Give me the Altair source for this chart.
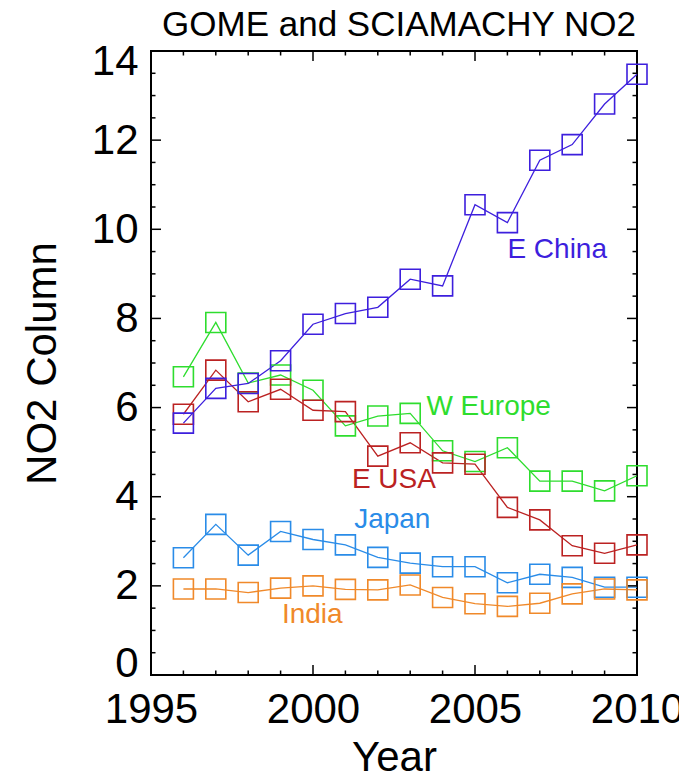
import altair as alt
import pandas as pd

# ---- data ----
years = list(range(1996, 2011))
e_china = [5.65, 6.43, 6.54, 7.05, 7.87, 8.11, 8.25, 8.88, 8.73, 10.55, 10.15, 11.55, 11.90, 12.81, 13.48]
w_europe = [6.69, 7.91, 6.55, 6.73, 6.39, 5.59, 5.81, 5.87, 5.03, 4.79, 5.10, 4.35, 4.35, 4.13, 4.47]
e_usa = [5.85, 6.84, 6.13, 6.41, 5.94, 5.91, 4.91, 5.21, 4.76, 4.73, 3.76, 3.48, 2.90, 2.73, 2.92]
japan = [2.63, 3.38, 2.69, 3.22, 3.04, 2.92, 2.64, 2.51, 2.43, 2.43, 2.07, 2.26, 2.19, 1.97, 1.97]
india = [1.93, 1.93, 1.85, 1.95, 2.00, 1.92, 1.91, 2.02, 1.74, 1.60, 1.54, 1.61, 1.82, 1.93, 1.91]

regions = ["W Europe", "E USA", "Japan", "E China", "India"]
series = [w_europe, e_usa, japan, e_china, india]
colors = ["#2EDD2E", "#BB2222", "#2A8CE8", "#3D1FDD", "#F0892A"]

# in-plot labels (data coordinates)
label_x = [2003.5, 2001.2, 2001.27, 2006.0, 1999.04]
label_y = [5.83, 4.19, 3.30, 9.35, 1.17]

x_major = [1995, 2000, 2005, 2010]
x_minor = [y for y in range(1996, 2010) if y not in x_major]
y_major = [0, 2, 4, 6, 8, 10, 12, 14]
y_minor = [v / 2 for v in range(1, 28) if v % 4 != 0]

W, H = 486, 624
FONT = "Liberation Sans"
MAJ, MIN = 10, 4.5

rows = []
for r, vals in zip(regions, series):
    for yr, v in zip(years, vals):
        rows.append({"region": r, "year": yr, "value": v})
df = pd.DataFrame(rows)
labels_df = pd.DataFrame({"region": regions, "year": label_x, "value": label_y})

xscale = alt.Scale(domain=[1995, 2010], nice=False, zero=False)
yscale = alt.Scale(domain=[0, 14], nice=False, zero=False)
cscale = alt.Scale(domain=regions, range=colors)

xaxis = alt.Axis(values=x_major, format="d", tickSize=0, domain=False, grid=False,
                 labelFontSize=42, labelFont=FONT, labelColor="black", labelPadding=14,
                 labelFlush=False, labelOverlap=False,
                 titleFontSize=42, titleFont=FONT, titleFontWeight="normal", titleColor="black",
                 titleBaseline="alphabetic", titleY=95, titleX=W / 2)
yaxis = alt.Axis(values=y_major, format="d", tickSize=0, domain=False, grid=False,
                 labelFontSize=42, labelFont=FONT, labelColor="black", labelPadding=13,
                 labelFlush=True, labelFlushOffset=10, labelOverlap=False,
                 titleFontSize=42, titleFont=FONT, titleFontWeight="normal", titleColor="black",
                 titleBaseline="alphabetic", titleX=-96, titleY=H / 2, titleAngle=-90)

X = alt.X("year:Q", scale=xscale, axis=xaxis, title="Year")
Y = alt.Y("value:Q", scale=yscale, axis=yaxis, title="NO2 Column")
C = alt.Color("region:N", scale=cscale, legend=None)

lines = alt.Chart(df).mark_line(strokeWidth=1.3).encode(x=X, y=Y, color=C, detail="region:N")
points = alt.Chart(df).mark_point(shape="square", filled=False, size=400, strokeWidth=1.6, opacity=1).encode(
    x=X, y=Y, color=C)
texts = alt.Chart(labels_df).mark_text(align="left", baseline="alphabetic", fontSize=28, font=FONT).encode(
    x=X, y=Y, color=C, text="region:N")


def xticks(vals, length):
    d = pd.DataFrame({"year": vals})
    bottom = alt.Chart(d).mark_rule(color="black", strokeWidth=1.5).encode(
        x=X, y=alt.value(H), y2=alt.value(H - length))
    top = alt.Chart(d).mark_rule(color="black", strokeWidth=1.5).encode(
        x=X, y=alt.value(0), y2=alt.value(length))
    return [bottom, top]


def yticks(vals, length):
    d = pd.DataFrame({"value": vals})
    left = alt.Chart(d).mark_rule(color="black", strokeWidth=1.5).encode(
        y=Y, x=alt.value(0), x2=alt.value(length))
    right = alt.Chart(d).mark_rule(color="black", strokeWidth=1.5).encode(
        y=Y, x=alt.value(W), x2=alt.value(W - length))
    return [left, right]


tick_layers = xticks(x_major, MAJ) + xticks(x_minor, MIN) + yticks(y_major, MAJ) + yticks(y_minor, MIN)

chart = alt.layer(lines, *tick_layers, points, texts).properties(
    width=W,
    height=H,
    title=alt.TitleParams("GOME and SCIAMACHY NO2", fontSize=35, font=FONT, fontWeight="normal",
                          color="black", anchor="middle", frame="group", offset=0, dx=5, dy=3),
    autosize=alt.AutoSizeParams(type="none"),
    padding={"left": 143, "top": 43, "right": 42, "bottom": 96},
    background="white",
).configure_view(stroke="black", strokeWidth=2)

chart.save("out.html", embed_options={"renderer": "svg", "actions": False})
